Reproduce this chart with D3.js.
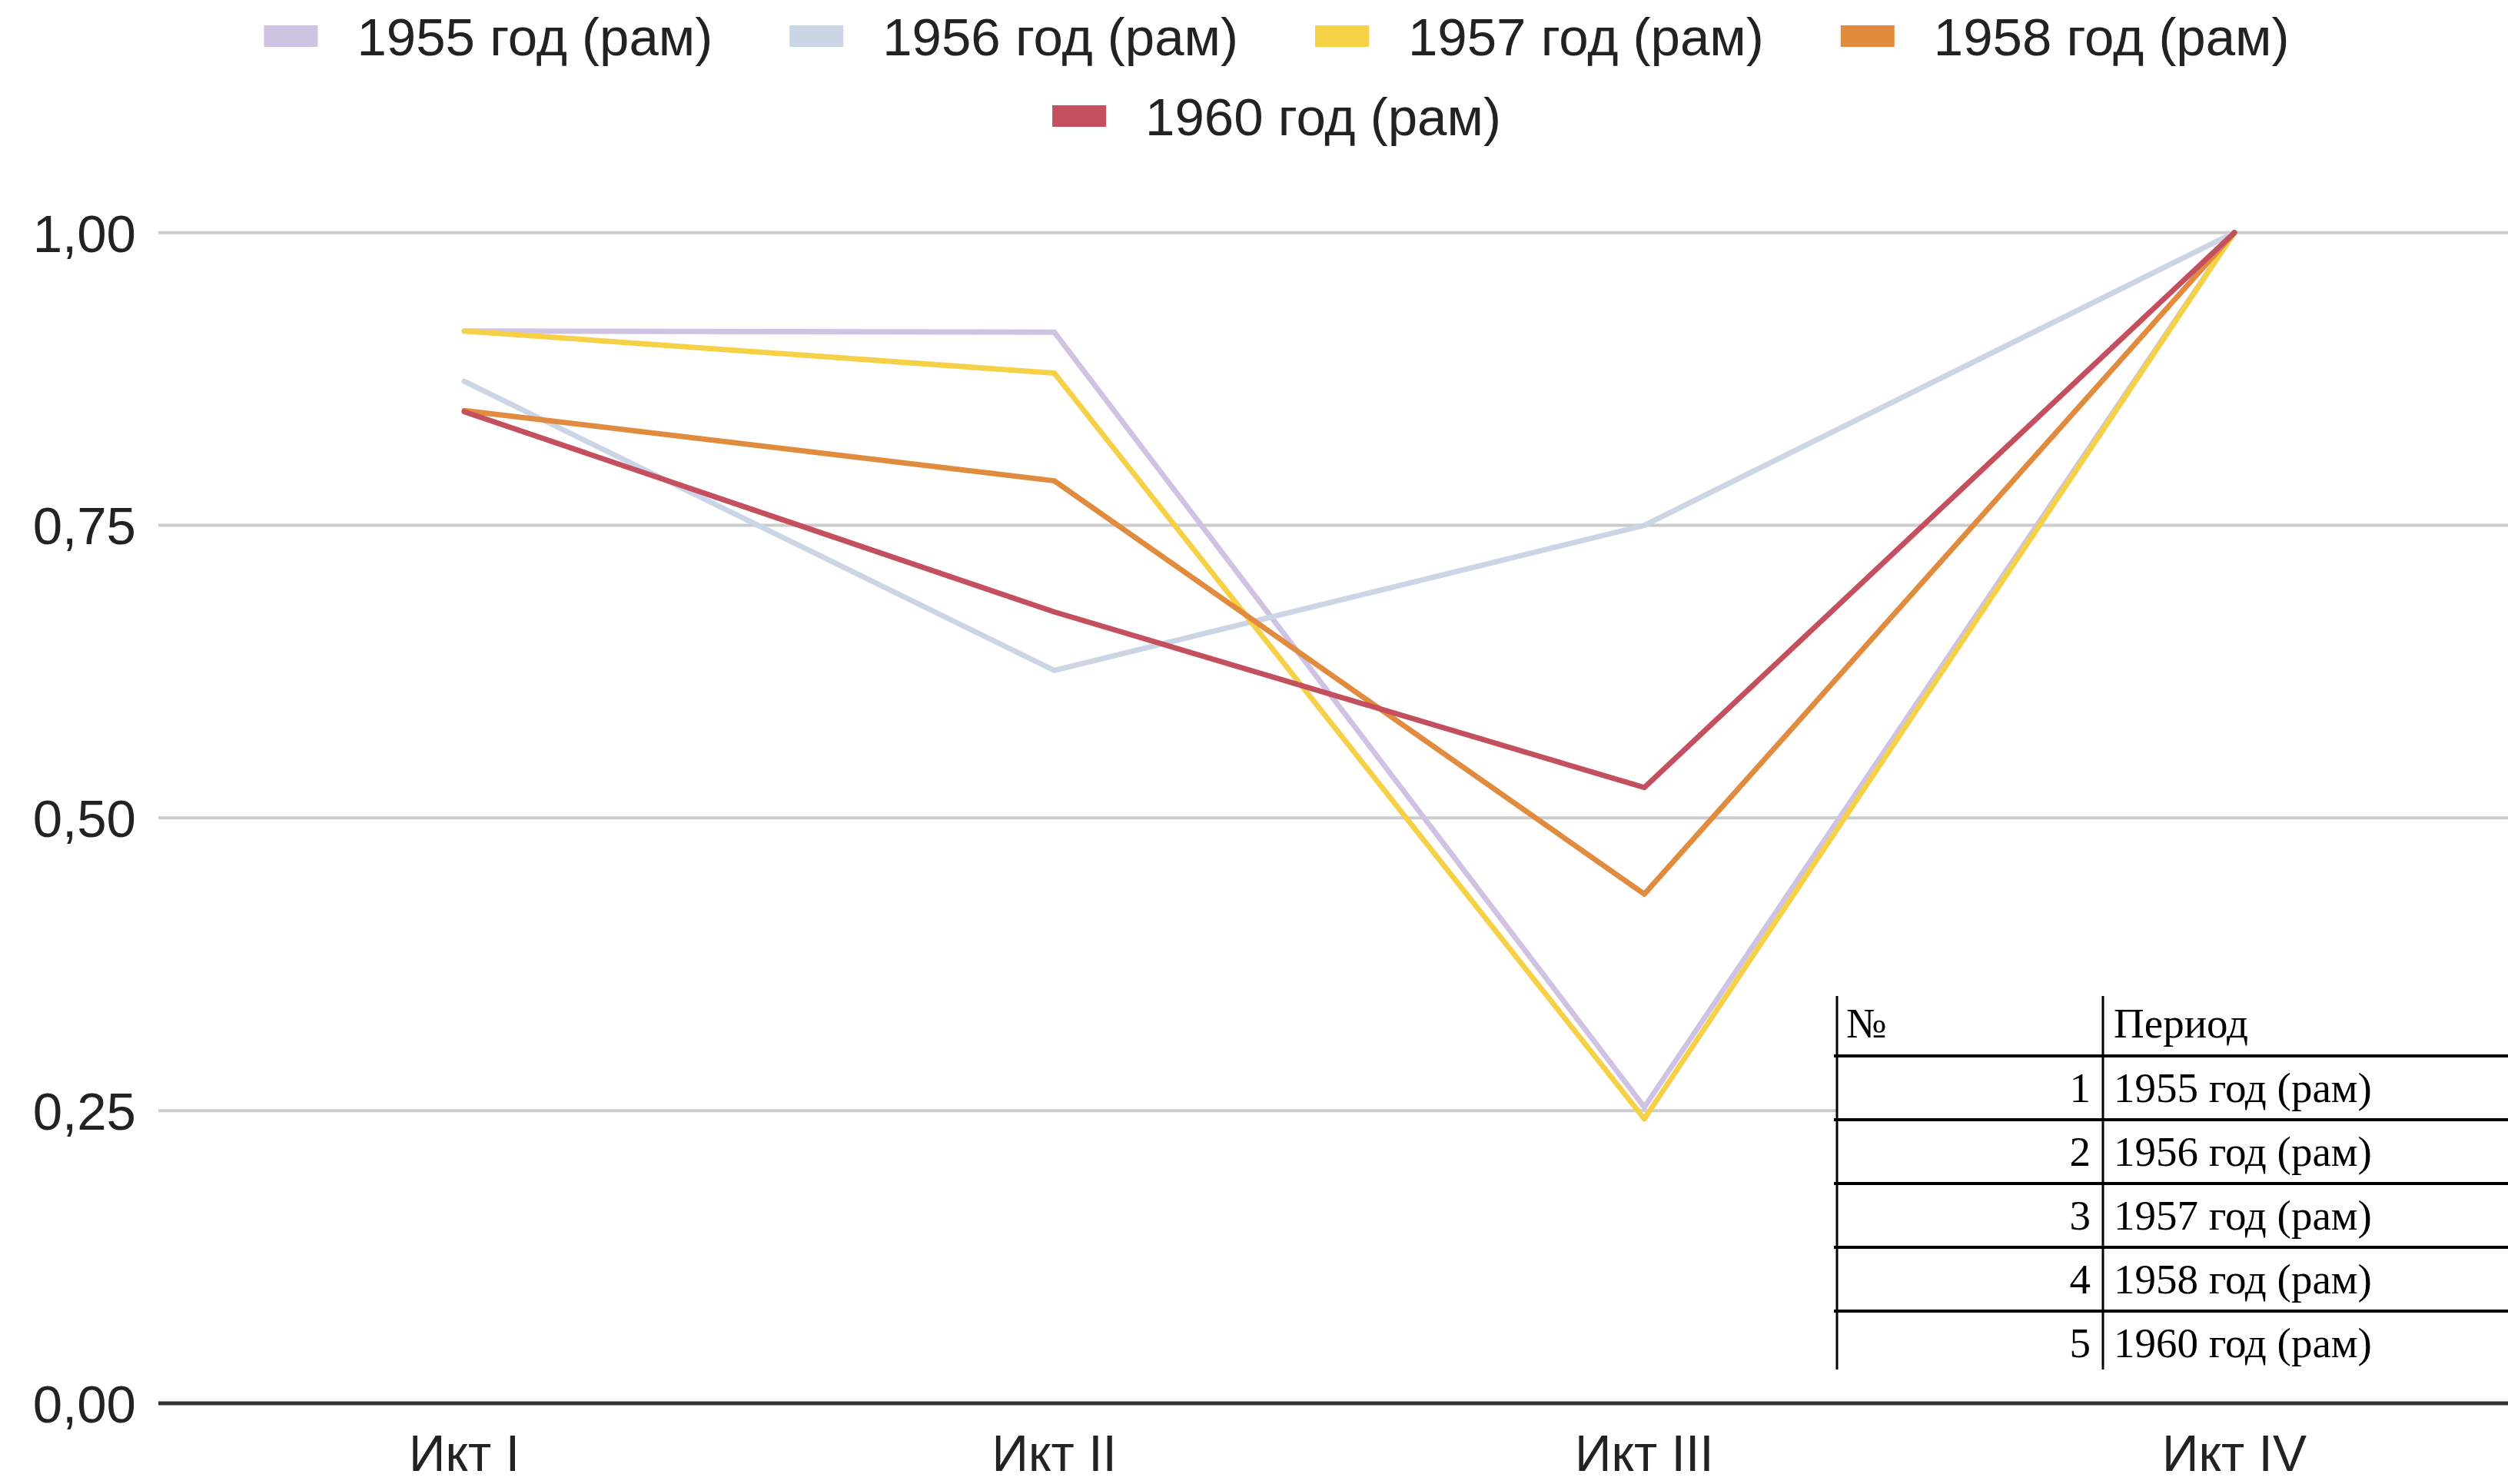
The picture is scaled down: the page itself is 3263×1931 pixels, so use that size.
<!DOCTYPE html>
<html>
<head>
<meta charset="utf-8">
<script src="https://cdn.jsdelivr.net/npm/d3@7"></script>
<style>
  html,body{margin:0;padding:0;background:#fff;}
  svg{display:block;}
</style>
</head>
<body>
<div id="chart"></div>
<script>
const categories=["Икт I","Икт II","Икт III","Икт IV"];
const seriesNames=["1955 год (рам)","1956 год (рам)","1957 год (рам)","1958 год (рам)","1960 год (рам)"];
const seriesColors=["#cfc2e2","#cbd5e6","#f6d148","#e08b3d","#c44f5e"];
const v1955=[0.916,0.915,0.253,1.0];
const v1956=[0.873,0.626,0.750,1.0];
const v1957=[0.916,0.880,0.243,1.0];
const v1958=[0.848,0.788,0.435,1.0];
const v1960=[0.847,0.676,0.526,1.0];
const yTicks=[0,0.25,0.5,0.75,1];
const tableHead=["№","Период"];

(function(){
  const W=3263,H=1931;
  const ink="#222", grid="#cccccc";
  const sans="'Liberation Sans', Arial, sans-serif", serif="'Liberation Serif', 'Times New Roman', serif";
  const values=[v1955,v1956,v1957,v1958,v1960];
  const series=seriesNames.map((name,i)=>({name,color:seriesColors[i],values:values[i]}));

  const svg=d3.select("#chart").append("svg").attr("width",W).attr("height",H);
  const x=d3.scalePoint().domain(categories).range([604,2907]);
  const y=d3.scaleLinear().domain([0,1]).range([1826,302.7]);
  const gridLeft=206;

  // gridlines
  svg.append("g").selectAll("line").data(yTicks.filter(d=>d>0)).join("line")
    .attr("x1",gridLeft).attr("x2",W)
    .attr("y1",d=>y(d)).attr("y2",d=>y(d))
    .attr("stroke",grid).attr("stroke-width",4);

  // y labels
  svg.append("g").selectAll("text").data(yTicks).join("text")
    .attr("x",177).attr("y",d=>y(d)).attr("dy","0.36em")
    .attr("text-anchor","end").attr("font-family",sans).attr("font-size",69).attr("fill",ink)
    .text(d=>d3.format(".2f")(d).replace(".",","));

  // lines
  const line=d3.line().x((d,i)=>x(categories[i])).y(d=>y(d));
  svg.append("g").selectAll("path").data(series).join("path")
    .attr("d",d=>line(d.values))
    .attr("fill","none").attr("stroke",d=>d.color).attr("stroke-width",7)
    .attr("stroke-linejoin","round").attr("stroke-linecap","round");

  // baseline axis
  svg.append("line").attr("x1",gridLeft).attr("x2",W)
    .attr("y1",y(0)).attr("y2",y(0)).attr("stroke","#333").attr("stroke-width",5);

  // x labels
  svg.append("g").selectAll("text").data(categories).join("text")
    .attr("x",d=>x(d)).attr("y",1914)
    .attr("text-anchor","middle").attr("font-family",sans).attr("font-size",66).attr("fill",ink)
    .text(d=>d);

  // legend: 4 items on first row, rest on second, centred
  const legendCenter=1661, rows=[series.slice(0,4),series.slice(4)], rowY=[47,151];
  const sw=70, swh=28, gapText=51, gapItem=100;
  rows.forEach((row,ri)=>{
    const g=svg.append("g");
    const items=g.selectAll("g").data(row).join("g");
    items.append("rect").attr("width",sw).attr("height",swh).attr("y",-swh/2)
      .attr("fill",d=>d.color);
    items.append("text").attr("x",sw+gapText).attr("dy","0.36em")
      .attr("font-family",sans).attr("font-size",69).attr("fill",ink).text(d=>d.name);
    const widths=[];
    items.each(function(){widths.push(sw+gapText+d3.select(this).select("text").node().getComputedTextLength());});
    const total=d3.sum(widths)+gapItem*(widths.length-1);
    let cx=legendCenter-total/2;
    items.attr("transform",(d,i)=>{const t=`translate(${cx},${rowY[ri]})`;cx+=widths[i]+gapItem;return t;});
  });

  // table overlay
  const tLeft=2390, tMid=2736, tTop=1296, headH=78, rowH=83, tBottom=1782;
  const t=svg.append("g");
  t.append("rect").attr("x",tLeft).attr("y",tTop).attr("width",W-tLeft).attr("height",tBottom-tTop).attr("fill","#fff");
  const rowsData=seriesNames.map((n,i)=>({no:i+1,name:n}));
  t.selectAll(".hl").data(rowsData).join("line")
    .attr("x1",tLeft-4).attr("x2",W)
    .attr("y1",(d,i)=>tTop+headH+i*rowH).attr("y2",(d,i)=>tTop+headH+i*rowH)
    .attr("stroke","#000").attr("stroke-width",4);
  [tLeft,tMid].forEach(xx=>t.append("line").attr("x1",xx).attr("x2",xx)
    .attr("y1",tTop).attr("y2",tBottom).attr("stroke","#000").attr("stroke-width",3));
  t.append("text").attr("x",tLeft+12).attr("y",tTop+54).attr("font-family",serif).attr("font-size",55).text(tableHead[0]);
  t.append("text").attr("x",tMid+14).attr("y",tTop+54).attr("font-family",serif).attr("font-size",55).text(tableHead[1]);
  t.selectAll(".no").data(rowsData).join("text")
    .attr("x",tMid-16).attr("y",(d,i)=>tTop+headH+i*rowH+60)
    .attr("text-anchor","end").attr("font-family",serif).attr("font-size",55).text(d=>d.no);
  t.selectAll(".nm").data(rowsData).join("text")
    .attr("x",tMid+14).attr("y",(d,i)=>tTop+headH+i*rowH+60)
    .attr("font-family",serif).attr("font-size",55).text(d=>d.name);
})();
</script>
</body>
</html>
